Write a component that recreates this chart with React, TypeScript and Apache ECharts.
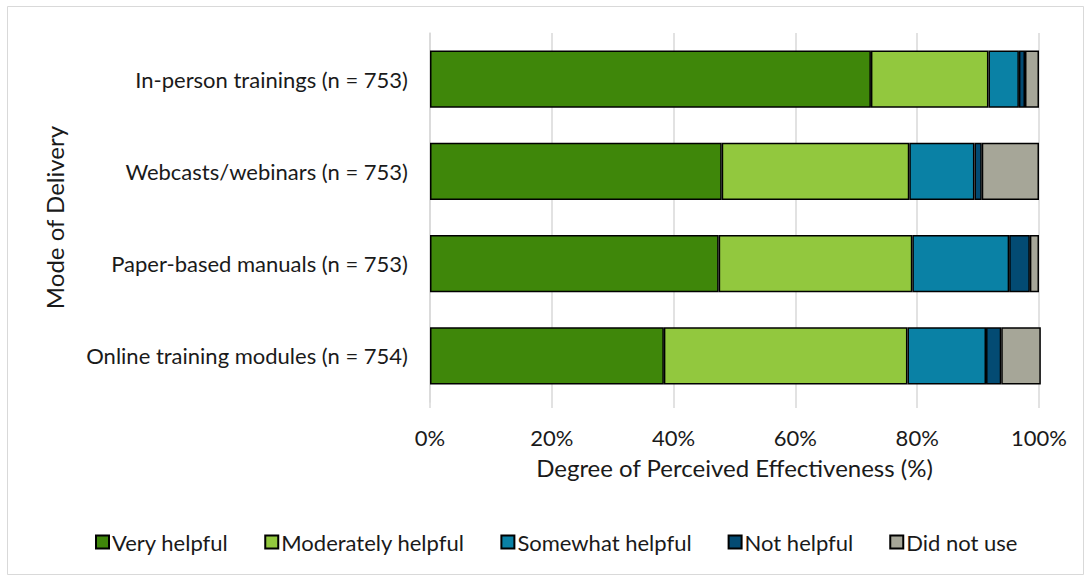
import React, { useEffect, useRef } from "react";
import * as echarts from "echarts";

const categories = [
  "In-person trainings (n = 753)",
  "Webcasts/webinars (n = 753)",
  "Paper-based manuals (n = 753)",
  "Online training modules (n = 754)",
];
const seriesNames = ["Very helpful", "Moderately helpful", "Somewhat helpful", "Not helpful", "Did not use"];
const veryHelpful = [72.4, 47.9, 47.4, 38.4];
const moderatelyHelpful = [19.3, 30.8, 31.8, 40.0];
const somewhatHelpful = [5.0, 10.7, 15.9, 12.9];
const notHelpful = [1.0, 1.2, 3.4, 2.5];
const didNotUse = [2.3, 9.4, 1.5, 6.5];
const xTicks = [0, 20, 40, 60, 80, 100];
const colors = ["#3F870A", "#92C83E", "#0A81A5", "#034B73", "#A6A698"];

export default function App() {
  const ref = useRef<HTMLDivElement>(null);
  useEffect(() => {
    if (!ref.current) return;
    const chart = echarts.init(ref.current, null, { renderer: "svg" });
    const font = "Lato, 'Open Sans', sans-serif";
    const data = [veryHelpful, moderatelyHelpful, somewhatHelpful, notHelpful, didNotUse];
    chart.setOption({
      animation: false,
      backgroundColor: "#ffffff",
      textStyle: { fontFamily: font },
      graphic: [
        {
          type: "rect",
          shape: { x: 7.5, y: 6.5, width: 1076, height: 568 },
          style: { fill: "none", stroke: "#d9d9d9", lineWidth: 1 },
          silent: true,
        },
      ],
      grid: { left: 430, right: 52, top: 33, bottom: 178, containLabel: false },
      xAxis: {
        type: "value",
        min: xTicks[0],
        max: xTicks[xTicks.length - 1],
        interval: 20,
        axisLabel: { formatter: "{value}%", fontSize: 22, color: "#1a1a1a", margin: 24, fontFamily: font },
        splitLine: { show: true, lineStyle: { color: "#d9d9d9", width: 1.5 } },
        axisLine: { show: false },
        axisTick: { show: true, length: 6, lineStyle: { color: "#d9d9d9", width: 1.5 } },
        name: "Degree of Perceived Effectiveness (%)",
        nameLocation: "middle",
        nameGap: 53,
        nameTextStyle: { fontSize: 24, color: "#1a1a1a", fontFamily: font },
      },
      yAxis: {
        type: "category",
        data: categories,
        inverse: true,
        axisLine: { show: true, lineStyle: { color: "#d9d9d9", width: 1.5 } },
        axisTick: { show: false },
        axisLabel: { fontSize: 22, color: "#1a1a1a", margin: 22, fontFamily: font },
        name: "Mode of Delivery",
        nameLocation: "middle",
        nameGap: 364,
        nameTextStyle: { fontSize: 24, color: "#1a1a1a", fontFamily: font },
      },
      legend: {
        bottom: 27,
        left: 95,
        padding: 0,
        itemWidth: 13,
        itemHeight: 13,
        itemGap: 36,
        icon: "rect",
        textStyle: { fontSize: 22, color: "#1a1a1a", fontFamily: font, padding: [0, 0, 0, -2] },
        data: seriesNames,
      },
      series: seriesNames.map((name, i) => ({
        name,
        type: "bar",
        stack: "total",
        barWidth: "62%",
        clip: false,
        data: data[i],
        itemStyle: { color: colors[i], borderColor: "#000000", borderWidth: 1.5 },
      })),
    });
    return () => chart.dispose();
  }, []);
  return (
    <div
      ref={ref}
      style={{ position: "absolute", left: 0, top: 0, width: 1091, height: 580 }}
    />
  );
}
